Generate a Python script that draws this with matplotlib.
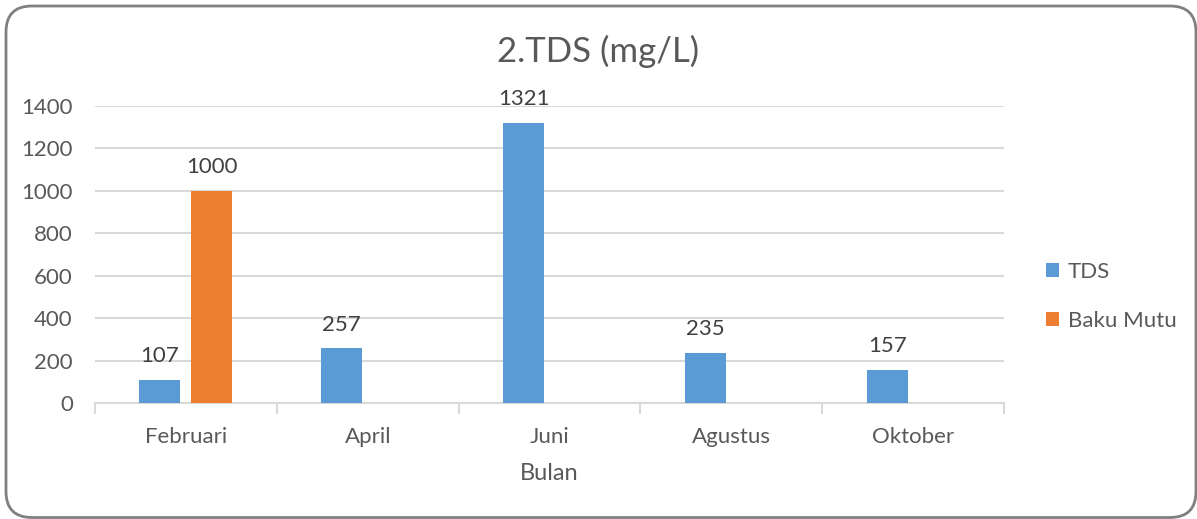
import numpy as np
import matplotlib.pyplot as plt
from matplotlib.patches import FancyBboxPatch
from matplotlib.transforms import IdentityTransform

months = ["Februari", "April", "Juni", "Agustus", "Oktober"]
tds = [107, 257, 1321, 235, 157]
baku_mutu = [1000, np.nan, np.nan, np.nan, np.nan]

plt.rcParams['font.family'] = ['Lato', 'DejaVu Sans']
text_color = '#595959'
grid_color = '#d9d9d9'

fig = plt.figure(figsize=(11.97, 5.19), dpi=100)
ax = fig.add_axes([0.0794, 0.2235, 0.7594, 0.5723])

x = np.arange(len(months))
w = 0.225
off = 0.143
b1 = ax.bar(x - off, tds, w, color='#5b9bd5', label='TDS', zorder=3)
b2 = ax.bar(x + off, baku_mutu, w, color='#ed7d31', label='Baku Mutu', zorder=3)

# data labels
ax.bar_label(b1, labels=[str(v) for v in tds], padding=10, fontsize=16, color='#404040')
ax.bar_label(b2, labels=['' if np.isnan(v) else str(int(v)) for v in baku_mutu],
             padding=10, fontsize=16, color='#404040')

ax.set_xlim(-0.5, len(months) - 0.5)
ax.set_ylim(0, 1400)
ax.set_yticks(np.arange(0, 1401, 200))
ax.yaxis.grid(True, color=grid_color, linewidth=1.5, zorder=0)
for s in ['top', 'right', 'left']:
    ax.spines[s].set_visible(False)
ax.spines['bottom'].set_color(grid_color)
ax.spines['bottom'].set_linewidth(1.5)

ax.set_xticks(x)
ax.set_xticklabels(months)
ax.set_xticks(np.arange(-0.5, len(months), 1), minor=True)
ax.tick_params(axis='x', which='major', length=0, pad=17, labelsize=16, labelcolor=text_color)
ax.tick_params(axis='x', which='minor', length=8, width=1.5, color=grid_color)
ax.tick_params(axis='y', length=0, pad=16, labelsize=16, labelcolor=text_color)

ax.set_xlabel('Bulan', fontsize=17, color=text_color, labelpad=12)
fig.text(0.4995, 0.9, '2.TDS (mg/L)', ha='center', va='center', fontsize=25, color=text_color)

leg = ax.legend(loc='center left', bbox_to_anchor=(1.024, 0.36), frameon=False,
                fontsize=16, handlelength=0.6, handleheight=0.6, labelspacing=1.3,
                handletextpad=0.4)
for t in leg.get_texts():
    t.set_color(text_color)

# rounded chart border (pixel coords)
border = FancyBboxPatch((6, 1.5), 1190, 511.5, boxstyle='round,pad=0,rounding_size=26',
                        transform=IdentityTransform(), fill=False, edgecolor='#808080',
                        linewidth=2)
fig.patches.append(border)

fig.savefig('out.png', dpi=100)
